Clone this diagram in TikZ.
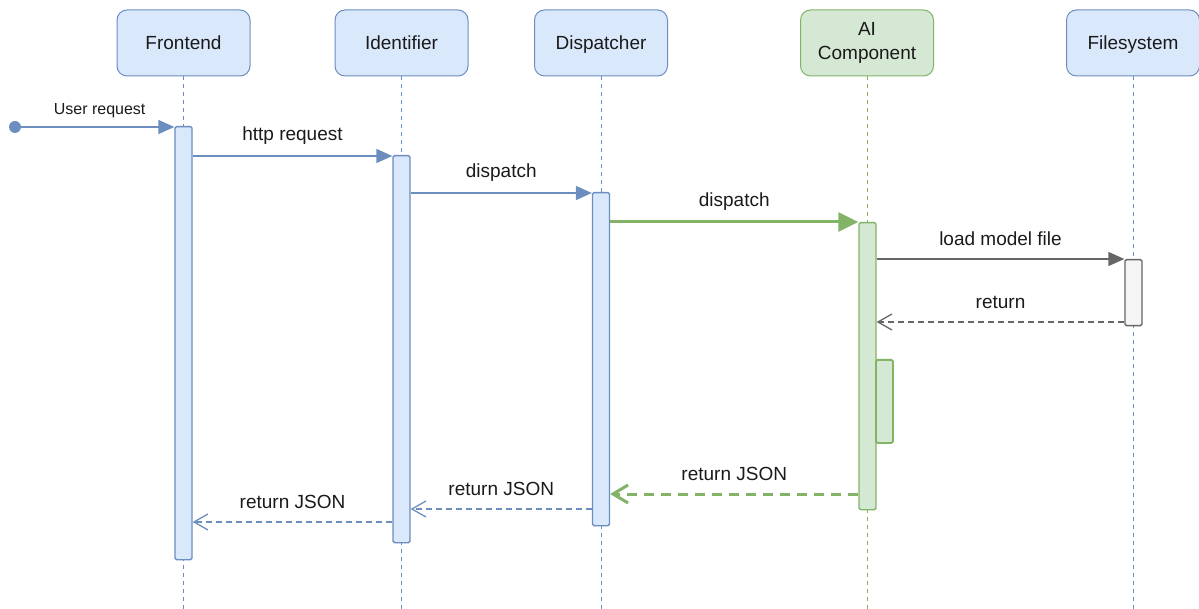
\documentclass[tikz,border=0pt]{standalone}
\usepackage{fontspec}
\setmainfont{Liberation Sans}
\usetikzlibrary{arrows.meta}
\definecolor{bluefill}{HTML}{DAE8FC}
\definecolor{bluestroke}{HTML}{6C8EBF}
\definecolor{greenfill}{HTML}{D5E8D4}
\definecolor{greenstroke}{HTML}{82B366}
\definecolor{grayfill}{HTML}{F5F5F5}
\definecolor{graystroke}{HTML}{666666}
\definecolor{txt}{HTML}{1A1A1A}

\begin{document}
\begin{tikzpicture}[x=1pt,y=-1pt,
  head/.style={draw, rounded corners=10pt, minimum width=133pt, minimum height=66pt,
    line width=1pt, font=\fontsize{19}{24}\selectfont, text=txt, align=center, inner sep=0pt},
  onehead/.style={text height=16pt, text depth=2pt},
  bluehead/.style={head, onehead, fill=bluefill, draw=bluestroke},
  greenhead/.style={head, fill=greenfill, draw=greenstroke},
  life/.style={line width=1pt, dash pattern=on 4pt off 4pt},
  act/.style={draw, rounded corners=1.5pt, minimum width=17pt, inner sep=0pt,
    anchor=north, line width=1.3pt},
  blueact/.style={act, fill=bluefill, draw=bluestroke},
  greenact/.style={act, fill=greenfill, draw=greenstroke},
  grayact/.style={act, fill=grayfill, draw=graystroke},
  lbl/.style={font=\fontsize{19}{21}\selectfont, text=txt, midway, yshift=20pt},
  sync/.style={draw=bluestroke, line width=1.3pt, -{Triangle[length=16pt,width=14pt]}},
  bigsync/.style={draw=greenstroke, line width=3pt, -{Triangle[length=20pt,width=19pt]}},
  graysync/.style={draw=graystroke, line width=1.3pt, -{Triangle[length=16pt,width=14pt]}},
  reply/.style={line width=1.3pt, dash pattern=on 6pt off 4pt,
    -{Straight Barb[length=14pt,width=16pt,line width=1.3pt]}},
  bigreply/.style={draw=greenstroke, line width=3pt, dash pattern=on 10pt off 7pt,
    -{Straight Barb[length=15pt,width=18pt,line width=3pt]}},
]
\useasboundingbox (0,0) rectangle (1199,609);

% participants
\node[bluehead]  (fe) at (183.5,43) {Frontend};
\node[bluehead]  (id) at (401.5,43) {Identifier};
\node[bluehead]  (di) at (601,43)   {Dispatcher};
\node[greenhead] (ai) at (867,43)   {AI\\Component};
\node[bluehead]  (fs) at (1133,43)  {Filesystem};

% lifelines
\draw[life, draw=bluestroke]  (fe.south) -- (fe.south |- 0,609);
\draw[life, draw=bluestroke]  (id.south) -- (id.south |- 0,609);
\draw[life, draw=bluestroke]  (di.south) -- (di.south |- 0,609);
\draw[life, draw=greenstroke] (ai.south) -- (ai.south |- 0,609);
\draw[life, draw=bluestroke]  (fs.south) -- (fs.south |- 0,609);

% activation bars
\node[blueact,  minimum height=433pt] (feA) at (183.5,126) {};
\node[blueact,  minimum height=387pt] (idA) at (401.5,155) {};
\node[blueact,  minimum height=333pt] (diA) at (601,192)   {};
\node[greenact, minimum height=287pt] (aiA) at (867.5,222) {};
\node[greenact, minimum height=83pt, line width=1.8pt]  (aiS) at (884.5,359) {};
\node[grayact,  minimum height=66pt]  (fsA) at (1133.5,259) {};

% incoming request
\coordinate (start) at (15,127);
\fill[bluestroke] (start) circle (6pt);
\draw[sync] (start) -- (feA.west |- start)
  node[midway, yshift=16pt, xshift=5pt, font=\fontsize{16}{18}\selectfont, text=txt] {User request};

% calls
\draw[sync] (feA.east |- 0,156) -- (idA.west |- 0,156) node[lbl] {http request};
\draw[sync] (idA.east |- 0,193) -- (diA.west |- 0,193) node[lbl] {dispatch};
\draw[bigsync] (diA.east |- 0,222) -- (aiA.west |- 0,222) node[lbl] {dispatch};
\draw[graysync] (aiA.east |- 0,259) -- (fsA.west |- 0,259) node[lbl] {load model file};

% replies
\draw[reply, draw=graystroke] (fsA.west |- 0,322) -- (aiA.east |- 0,322) node[lbl] {return};
\draw[bigreply] (aiA.west |- 0,494) -- (diA.east |- 0,494) node[lbl] {return JSON};
\draw[reply, draw=bluestroke] (diA.west |- 0,509) -- (idA.east |- 0,509) node[lbl] {return JSON};
\draw[reply, draw=bluestroke] (idA.west |- 0,522) -- (feA.east |- 0,522) node[lbl] {return JSON};
\end{tikzpicture}
\end{document}
